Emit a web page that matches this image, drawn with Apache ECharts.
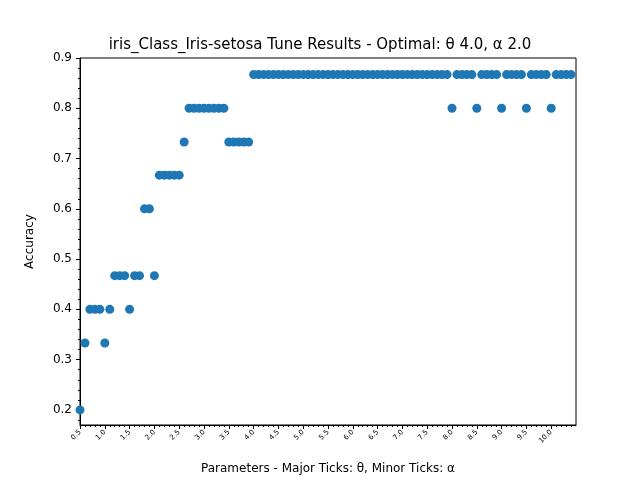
<!DOCTYPE html>
<html>
<head>
<meta charset="utf-8">
<script src="https://cdn.jsdelivr.net/npm/echarts@6/dist/echarts.min.js"></script>
<style>html,body{margin:0;padding:0;background:#fff}#chart{width:640px;height:480px}</style>
</head>
<body>
<div id="chart"></div>
<script>
// parameter values, 0.5 .. 10.4 in 0.1 steps
var params = [];
for (var i = 5; i <= 104; i++) params.push(i / 10);

var accuracy = [
	0.2, 0.333, 0.4, 0.4, 0.4, 0.333, 0.4, 0.467, 0.467, 0.467,
	0.4, 0.467, 0.467, 0.6, 0.6, 0.467, 0.667, 0.667, 0.667, 0.667,
	0.667, 0.733, 0.8, 0.8, 0.8, 0.8, 0.8, 0.8, 0.8, 0.8,
	0.733, 0.733, 0.733, 0.733, 0.733, 0.867, 0.867, 0.867, 0.867, 0.867,
	0.867, 0.867, 0.867, 0.867, 0.867, 0.867, 0.867, 0.867, 0.867, 0.867,
	0.867, 0.867, 0.867, 0.867, 0.867, 0.867, 0.867, 0.867, 0.867, 0.867,
	0.867, 0.867, 0.867, 0.867, 0.867, 0.867, 0.867, 0.867, 0.867, 0.867,
	0.867, 0.867, 0.867, 0.867, 0.867, 0.8, 0.867, 0.867, 0.867, 0.867,
	0.8, 0.867, 0.867, 0.867, 0.867, 0.8, 0.867, 0.867, 0.867, 0.867,
	0.8, 0.867, 0.867, 0.867, 0.867, 0.8, 0.867, 0.867, 0.867, 0.867
];

var xTicks = [0.5, 1.0, 1.5, 2.0, 2.5, 3.0, 3.5, 4.0, 4.5, 5.0, 5.5, 6.0, 6.5, 7.0, 7.5, 8.0, 8.5, 9.0, 9.5, 10.0];
var yTicks = [0.2, 0.3, 0.4, 0.5, 0.6, 0.7, 0.8, 0.9];
var yMinor = [];
for (var k = 9; k <= 45; k++) yMinor.push(k / 50);

var chart = echarts.init(document.getElementById("chart"));
var font = "DejaVu Sans";
var axisLine = { show: true, lineStyle: { color: "#000", width: 1 } };

chart.setOption({
	animation: false,
	textStyle: { fontFamily: font },
	title: {
		text: "iris_Class_Iris-setosa Tune Results - Optimal: \u03b8 4.0, \u03b1 2.0",
		left: "center",
		top: 33,
		textStyle: { fontSize: 15, fontWeight: "normal", color: "#000", fontFamily: font }
	},
	grid: { left: 80, right: 64, top: 58, bottom: 55, show: true, borderColor: "#000", borderWidth: 1 },
	xAxis: [{
		type: "value", min: 0.5, max: 10.5,
		name: "Parameters - Major Ticks: \u03b8, Minor Ticks: \u03b1",
		nameLocation: "middle", nameGap: 38,
		nameTextStyle: { fontSize: 12, color: "#000" },
		axisLine: axisLine, splitLine: { show: false },
		axisTick: { show: true, customValues: xTicks, length: 4, inside: false, lineStyle: { color: "#000" } },
		minorTick: { show: false },
		axisLabel: {
			customValues: xTicks, rotate: 45, fontSize: 7, color: "#000", margin: 6,
			formatter: function (v) { return v.toFixed(1); }
		}
	}, {
		type: "value", min: 0.5, max: 10.5, position: "bottom",
		axisLine: { show: false }, splitLine: { show: false },
		axisTick: { show: true, customValues: params, length: 2, lineStyle: { color: "#000" } },
		axisLabel: { show: false }
	}],
	yAxis: [{
		type: "value", min: 0.17, max: 0.9,
		name: "Accuracy", nameLocation: "middle", nameGap: 44,
		nameTextStyle: { fontSize: 12, color: "#000" },
		axisLine: axisLine, splitLine: { show: false },
		axisTick: { show: true, customValues: yTicks, length: 4, lineStyle: { color: "#000" } },
		axisLabel: {
			customValues: yTicks, fontSize: 12, color: "#000",
			formatter: function (v) { return v.toFixed(1); }
		}
	}, {
		type: "value", min: 0.17, max: 0.9, position: "left",
		axisLine: { show: false }, splitLine: { show: false },
		axisTick: { show: true, customValues: yMinor, length: 2, lineStyle: { color: "#000" } },
		axisLabel: { show: false }
	}],
	series: [{
		type: "scatter",
		symbolSize: 9,
		itemStyle: { color: "#1f77b4", opacity: 1 },
		data: params.map(function (p, i) { return [p, accuracy[i]]; })
	}]
});
</script>
</body>
</html>
